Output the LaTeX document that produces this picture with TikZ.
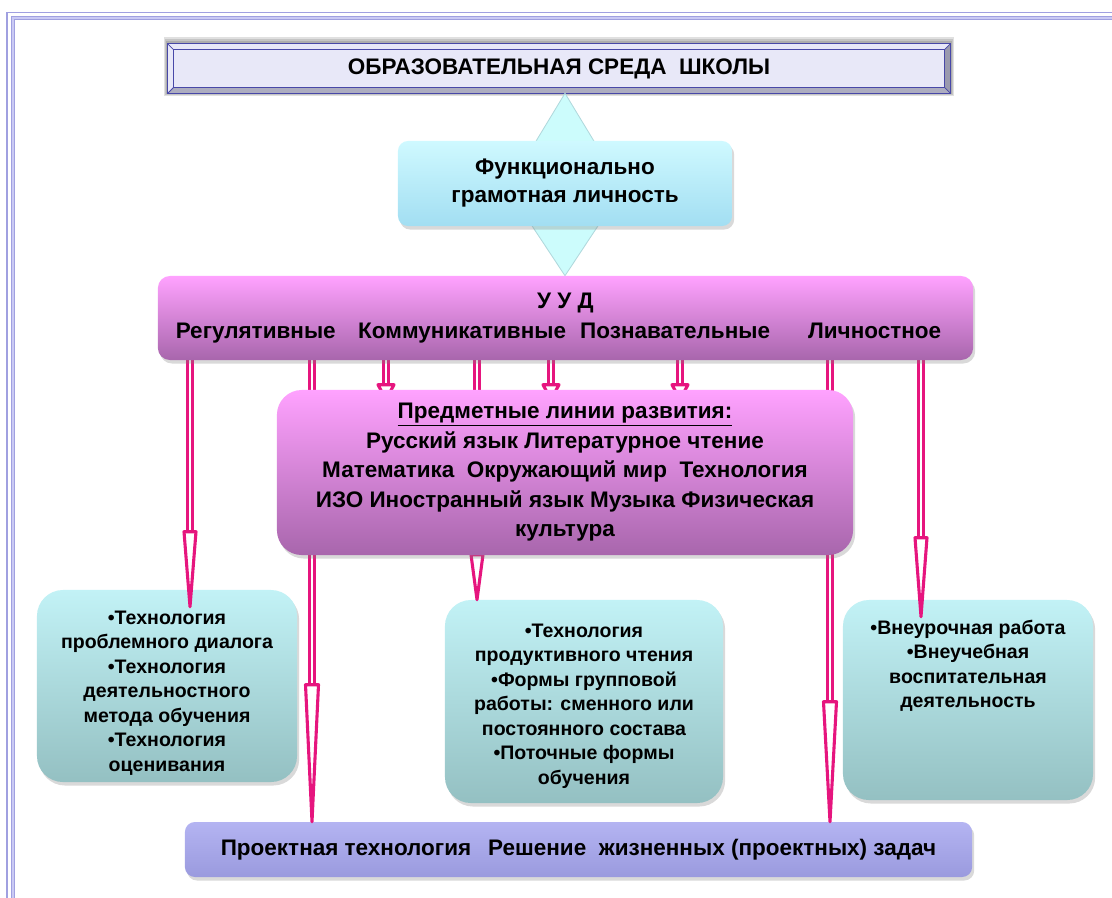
\documentclass[tikz,border=0pt]{standalone}
\usepackage{fontspec}
\setmainfont{Liberation Sans}
\usetikzlibrary{calc, shadows, positioning}
\definecolor{framel}{HTML}{A0A0E0}
\definecolor{framef}{HTML}{CACAF4}
\definecolor{ttlface}{HTML}{E8E8F8}
\definecolor{ttlink}{HTML}{4848A8}
\definecolor{ttlbot}{HTML}{ADADC0}
\definecolor{ttlrgt}{HTML}{9A9AAE}
\definecolor{cyanhi}{HTML}{CFF9FF}
\definecolor{cyanlo}{HTML}{A2DEF2}
\definecolor{tealhi}{HTML}{C2F2F6}
\definecolor{teallo}{HTML}{94C0C2}
\definecolor{pinkhi}{HTML}{FFA2FF}
\definecolor{pinklo}{HTML}{A866AC}
\definecolor{lavhi}{HTML}{B4B4F2}
\definecolor{lavlo}{HTML}{9A9ADE}
\definecolor{linkpink}{HTML}{E6157E}
\definecolor{trifill}{HTML}{CCFCFC}
\definecolor{triedge}{HTML}{B0D8DC}
\newcommand{\bigtxt}{\fontsize{16}{19.9}\selectfont\bfseries}
\newcommand{\smalltxt}{\fontsize{13.9}{17.4}\selectfont\bfseries}
\pgfdeclarelayer{boxes}\pgfdeclarelayer{links}
\pgfsetlayers{boxes,links,main}
\tikzset{
  card/.style={rounded corners=#1, inner sep=0pt, align=center,
    drop shadow={opacity=.3, shadow xshift=1.5pt, shadow yshift=-2.5pt}},
  cyanbox/.style={card=0.25cm, top color=cyanhi, bottom color=cyanlo, font=\bigtxt},
  pinkbox/.style={card=#1, top color=pinkhi, bottom color=pinklo, font=\bigtxt},
  tealbox/.style={card=0.65cm, top color=tealhi, bottom color=teallo, font=\smalltxt},
  lavbox/.style={card=0.25cm, top color=lavhi, bottom color=lavlo, font=\bigtxt},
  ttltext/.style={inner sep=0pt, font=\bigtxt},
  tri/.style={fill=trifill, draw=triedge, line width=0.6pt},
  linkshaft/.style={draw=linkpink, line width=2.2pt, double=white, double distance=1.1pt},
  linkhead/.style={fill=white, draw=linkpink, line width=2.2pt, line join=round}
}

\begin{document}
\begin{tikzpicture}[x=0.025cm, y=0.025cm]
  \useasboundingbox (0,0) rectangle (1112,-897);
  % page frame
  \draw[framel, line width=1.4pt] (7,-12.5) rectangle (1130,-915);
  \draw[framel, line width=0.75pt, double=framef, double distance=1.5pt] (13,-18) rectangle (1124,-909);

  % nodes
  \node[ttltext, minimum width=19.55cm, minimum height=1.225cm] (ttl) at (559,-68.5) {ОБРАЗОВАТЕЛЬНАЯ СРЕДА\ \ ШКОЛЫ};
  \node[cyanbox, minimum width=8.35cm, minimum height=2.125cm] (func) at (565,-183.5) {Функционально\\грамотная личность};
  \node[pinkbox=0.3cm, minimum width=20.375cm, minimum height=2.1cm] (uud) at (565.5,-318)
    {У У Д\\[1pt]Регулятивные\hspace{16pt}Коммуникативные\hspace{10pt}Познавательные\hspace{27pt}Личностное\hspace*{10pt}};
  \node[pinkbox=0.62cm, minimum width=14.4cm, minimum height=4.125cm, font=\fontsize{16}{21}\selectfont\bfseries] (subj) at (565,-472.5)
    {\underline{Предметные линии развития:}\\Русский язык Литературное чтение\\Математика\ \ Окружающий мир\ \ Технология\\ИЗО Иностранный язык Музыка Физическая\\культура};

  \begin{pgfonlayer}{boxes}
    % bevelled title plate
    \foreach \g in {7,5,3}{\fill[black, opacity=.12] ($(ttl.north west)+(-\g/2,\g)$) rectangle ($(ttl.south east)+(\g/2,-\g/3)$);}
    \fill[ttlbot] (ttl.north west) rectangle (ttl.south east);
    \fill[ttlface] (ttl.north west) -- (ttl.north east) -- ($(ttl.north east)+(-6,-6)$) -- ($(ttl.north west)+(6,-6)$) -- cycle;
    \fill[ttlface] (ttl.north west) -- ($(ttl.north west)+(6,-6)$) -- ($(ttl.south west)+(6,6)$) -- (ttl.south west) -- cycle;
    \fill[ttlrgt] (ttl.north east) -- (ttl.south east) -- ($(ttl.south east)+(-6,6)$) -- ($(ttl.north east)+(-6,-6)$) -- cycle;
    \filldraw[fill=ttlface, draw=ttlink, line width=0.8pt] ($(ttl.north west)+(6,-6)$) rectangle ($(ttl.south east)+(-6,6)$);
    \draw[ttlink, line width=0.6pt] (ttl.north west) -- ++(6,-6) (ttl.north east) -- ++(-6,-6)
      (ttl.south west) -- ++(6,6) (ttl.south east) -- ++(-6,6);
    \draw[ttlink, line width=0.8pt] (ttl.north west) rectangle (ttl.south east);
    % lower boxes
    \node[tealbox, minimum width=6.5cm, minimum height=4.8cm] (lft) at (167,-686)
      {\parbox[c][3.75cm][t]{6.3cm}{\centering •Технология\\проблемного диалога\\•Технология\\деятельностного\\метода обучения\\•Технология\\оценивания}};
    \node[tealbox, minimum width=6.95cm, minimum height=5.075cm] (mid) at (584,-701.5)
      {\parbox[c][3.875cm][t]{6.7cm}{\centering •Технология\\продуктивного чтения\\•Формы групповой\\работы: сменного или\\постоянного состава\\•Поточные формы\\обучения}};
    \node[tealbox, minimum width=6.25cm, minimum height=5cm] (rgt) at (968,-700)
      {\parbox[c][4cm][t]{6cm}{\centering •Внеурочная работа\\•Внеучебная\\воспитательная\\деятельность}};
    \node[lavbox, minimum width=19.675cm, minimum height=1.375cm] (prj) at (578.5,-849.5)
      {Проектная технология\hspace{12pt}Решение\ \ жизненных (проектных) задач};
  \end{pgfonlayer}

  \begin{pgfonlayer}{links}
    \filldraw[tri] (ttl.south -| func.north) -- ($(func.north)+(-36,-12)$) -- ($(func.north)+(36,-12)$) -- cycle;
    \filldraw[tri] (uud.north -| func.south) -- ($(func.south)+(-38,8)$) -- ($(func.south)+(38,8)$) -- cycle;
    % x / target / overshoot / head length / head half width
    \foreach \x/\t/\d/\h/\w in {190/lft/17/75/6, 312/prj/0/137/6.5, 477/mid/0/45/6, 830/prj/0/120/6.5, 921/rgt/17/79/6,
                               386/subj/10/15/8, 551/subj/10/15/8, 680/subj/10/15/8}{
      \draw[linkshaft] (uud.south -| \x,0) -- ($(\t.north -| \x,0)+(0,\h-\d+2)$);
      \filldraw[linkhead] ($(\t.north -| \x,0)+(-\w,\h-\d)$) -- ($(\t.north -| \x,0)+(0,-\d)$) -- ($(\t.north -| \x,0)+(\w,\h-\d)$) -- cycle;}
  \end{pgfonlayer}
\end{tikzpicture}
\end{document}
